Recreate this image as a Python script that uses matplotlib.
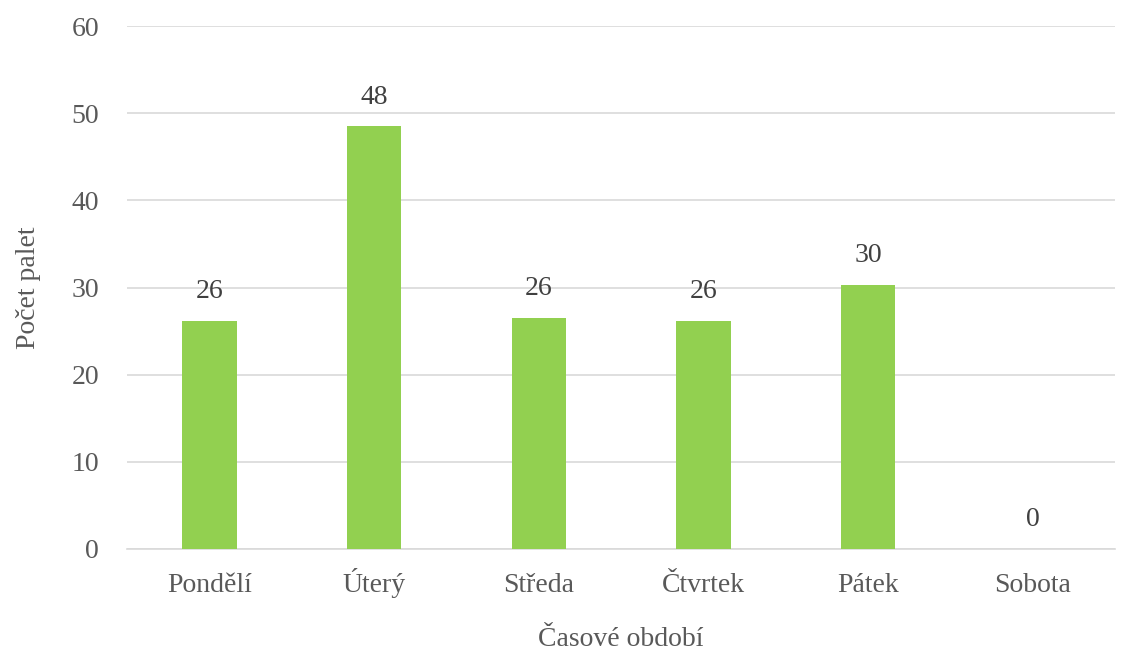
import matplotlib
matplotlib.use("Agg")
import matplotlib.pyplot as plt
import numpy as np

days = ["Pondělí", "Úterý", "Středa", "Čtvrtek", "Pátek", "Sobota"]
pallets = [26.2, 48.5, 26.5, 26.2, 30.3, 0.0]

plt.rcParams['font.family'] = ['Liberation Serif', 'DejaVu Serif']
text_col = "#595959"
fs = 20

fig = plt.figure(figsize=(11.44, 6.55), dpi=100)
ax = fig.add_axes([0.111, 0.162, 0.864, 0.798])

x = np.arange(len(days))
bars = ax.bar(x, pallets, width=0.33, color="#92D050", zorder=3)
for b, v in zip(bars, pallets):
    ax.text(b.get_x() + b.get_width() / 2, v + 1.9, "%d" % int(v),
            ha="center", va="bottom", fontsize=fs, color="#404040")

ax.set_xlim(-0.5, len(days) - 0.5)
ax.set_ylim(0, 60)
ax.set_yticks(np.arange(0, 61, 10))
ax.set_xticks(x)
ax.set_xticklabels(days)
ax.yaxis.grid(True, color="#D9D9D9", linewidth=1.2, zorder=0)
for s in ["top", "right", "left"]:
    ax.spines[s].set_visible(False)
ax.spines["bottom"].set_color("#D9D9D9")
ax.spines["bottom"].set_linewidth(1.2)
ax.tick_params(axis="both", length=0, labelsize=fs, labelcolor=text_col)
ax.tick_params(axis="x", pad=31)
ax.tick_params(axis="y", pad=20)
for lab in ax.get_xticklabels():
    lab.set_va("baseline")

ax.set_xlabel("Časové období", fontsize=fs, color=text_col, labelpad=21)
ax.set_ylabel("Počet palet", fontsize=fs, color=text_col, labelpad=22)

fig.savefig("out.png", dpi=100)
